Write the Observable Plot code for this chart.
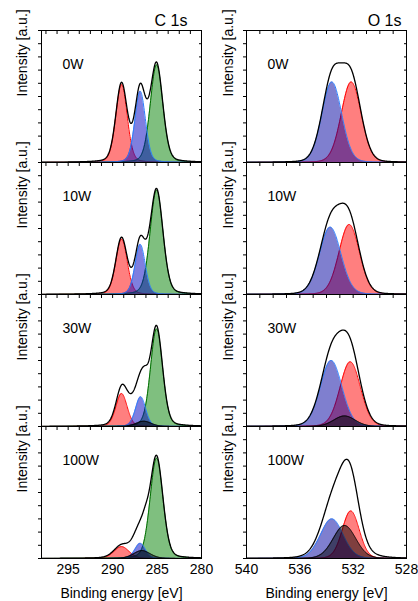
<!DOCTYPE html>
<html><head><meta charset="utf-8">
<script src="https://cdn.jsdelivr.net/npm/d3@7"></script>
<script src="https://cdn.jsdelivr.net/npm/@observablehq/plot@0.6"></script>
<style>
html,body{margin:0;padding:0;background:#fff;}
#chart{position:relative;width:418px;height:601px;overflow:hidden;}
#chart > div{position:absolute;top:0;}
</style></head><body><div id="chart"><div id="c" style="left:0"></div><div id="o" style="left:209px"></div></div>
<script>
const powers = ["0W", "10W", "30W", "100W"];
// fitted peaks: [centre eV, height (fraction of panel), FWHM eV], one row per power
const c1sRed   = [[289.0, 0.59, 1.5], [289.0, 0.42, 1.5], [289.0, 0.25, 1.5], [289.0, 0.09, 2.0]];
const c1sGreen = [[285.06, 0.74, 1.65], [285.06, 0.79, 1.7], [285.06, 0.74, 1.6], [285.06, 0.76, 1.7]];
const c1sBlue  = [[286.9, 0.54, 1.4], [286.9, 0.38, 1.35], [286.85, 0.225, 1.35], [286.9, 0.115, 1.4]];
const c1sDark  = [null, null, [286.5, 0.04, 2.0], [286.7, 0.06, 2.2]];
// parts of the measured envelope not covered by the fitted peaks
const c1sExtra = [[], [], [[287.8, 0.12, 2.2], [286.35, 0.09, 0.9]], [[287.4, 0.05, 1.6], [286.3, 0.08, 0.9]]];
const o1sRed   = [[532.15, 0.61, 1.75], [532.3, 0.53, 1.8], [532.22, 0.49, 1.8], [532.18, 0.36, 1.5]];
const o1sBlue  = [[533.6, 0.61, 1.75], [533.72, 0.51, 1.9], [533.65, 0.50, 1.9], [533.6, 0.30, 2.0]];
const o1sDark  = [null, null, [532.65, 0.08, 1.9], [532.65, 0.25, 2.0]];
const o1sExtra = [[], [], [], [[532.7, 0.06, 3.5]]];
const cTicks = [295, 290, 285, 280];
const oTicks = [540, 536, 532, 528];
const cDomain = [298, 280];
const oDomain = [540, 528];
const yTicks = d3.range(0, 1.001, 0.1);

function peak(E, p, eta) {
  if (!p) return 0;
  const [c, h, w] = p;
  const t = (E - c) / w;
  return h * ((1 - eta) * Math.exp(-4 * Math.LN2 * t * t) + eta / (1 + 4 * t * t));
}

function column({domain, ticks, minor, comps, extras, title, titleDx, marginLeft, marginRight, labelDx, step, eta}) {
  const lo = Math.min(...domain), hi = Math.max(...domain);
  const grid = d3.range(lo, hi + step / 2, step);
  const compRows = comps.map(() => []);
  const env = [];
  powers.forEach((pw, i) => {
    grid.forEach(E => {
      let s = 0;
      comps.forEach((c, j) => {
        if (!c.params[i]) return;
        const v = peak(E, c.params[i], eta);
        s += v;
        compRows[j].push({power: pw, E, I: v});
      });
      extras[i].forEach(p => { s += peak(E, p, eta); });
      env.push({power: pw, E, I: s});
    });
  });
  const marks = [];
  comps.forEach((c, j) => {
    marks.push(Plot.areaY(compRows[j], {x: "E", y: "I", fy: "power", fill: c.fill, fillOpacity: 0.5}));
    marks.push(Plot.lineY(compRows[j], {x: "E", y: "I", fy: "power", stroke: c.stroke, strokeWidth: 1}));
  });
  marks.push(Plot.lineY(env, {x: "E", y: "I", fy: "power", stroke: "black", strokeWidth: 1.3}));
  marks.push(Plot.frame({stroke: "black"}));
  marks.push(Plot.axisY(yTicks, {anchor: "left", tickSize: 3, tickFormat: () => "", label: null, facetAnchor: null}));
  marks.push(Plot.axisY(yTicks, {anchor: "right", tickSize: -3, tickFormat: () => "", label: null, facetAnchor: null}));
  marks.push(Plot.axisX(minor, {anchor: "top", tickSize: -3, tickFormat: () => "", label: null, facetAnchor: null}));
  marks.push(Plot.axisX(ticks, {anchor: "bottom", tickSize: 0, tickPadding: 6, label: "Binding energy [eV]", labelAnchor: "center", labelArrow: "none"}));
  marks.push(Plot.text(powers, {fy: d => d, text: d => d, frameAnchor: "top-left", dx: 21, dy: 29, textAnchor: "start"}));
  marks.push(Plot.text(powers, {fy: d => d, text: () => "Intensity [a.u.]", frameAnchor: "left", rotate: -90, dx: labelDx}));
  marks.push(Plot.text([powers[0]], {fy: d => d, text: () => title, frameAnchor: "top-right", dx: titleDx, dy: -16, textAnchor: "end", fontSize: 16}));
  return Plot.plot({
    width: 209, height: 601,
    marginLeft, marginRight, marginTop: 28, marginBottom: 42,
    style: "font-family: 'Liberation Sans', Arial, sans-serif; font-size: 14px; background: transparent; overflow: visible; color: black;",
    x: {domain},
    y: {domain: [0, 1]},
    fy: {domain: powers, padding: 0, axis: null},
    marks
  });
}

document.getElementById("c").append(column({
  domain: cDomain, ticks: cTicks, minor: d3.range(280, 298.01, 1.25),
  comps: [
    {params: c1sRed, fill: "#ff0000", stroke: "#ff0000"},
    {params: c1sGreen, fill: "#008000", stroke: "#006e00"},
    {params: c1sBlue, fill: "#0000c0", stroke: "#2a7fff"},
    {params: c1sDark, fill: "#000000", stroke: "#000000"}
  ],
  extras: c1sExtra, title: "C 1s", titleDx: -14,
  marginLeft: 41, marginRight: 8, labelDx: -19, step: 0.04, eta: 0.2
}));
document.getElementById("o").append(column({
  domain: oDomain, ticks: oTicks, minor: d3.range(528, 540.01, 1),
  comps: [
    {params: o1sRed, fill: "#ff0000", stroke: "#ff0000"},
    {params: o1sBlue, fill: "#0000a0", stroke: "#2a7fff"},
    {params: o1sDark, fill: "#000000", stroke: "#000000"}
  ],
  extras: o1sExtra, title: "O 1s", titleDx: -5,
  marginLeft: 37, marginRight: 12, labelDx: -18, step: 0.03, eta: 0.1
}));
</script></body></html>
